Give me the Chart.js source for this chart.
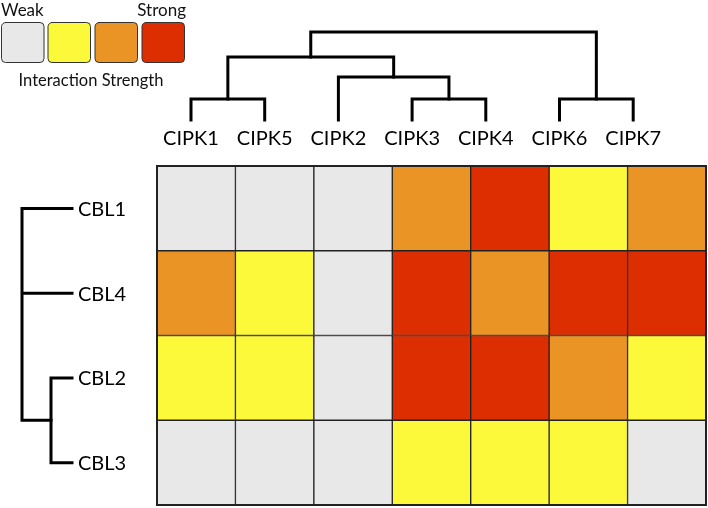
<!DOCTYPE html>
<html><head><meta charset="utf-8">
<script src="https://cdn.jsdelivr.net/npm/chart.js@4"></script>
<style>html,body{margin:0;padding:0;background:#fff}canvas{display:block}</style>
</head><body><canvas id="c" width="708" height="508"></canvas>
<script>
// ---- data ----
const columns = ['CIPK1','CIPK5','CIPK2','CIPK3','CIPK4','CIPK6','CIPK7'];
const rows = ['CBL1','CBL4','CBL2','CBL3']; // top to bottom
const strengthCBL1 = [0,0,0,2,3,1,2];
const strengthCBL4 = [2,1,0,3,2,3,3];
const strengthCBL2 = [1,1,0,3,3,2,1];
const strengthCBL3 = [0,0,0,1,1,1,0];
const strengthColors = ['#e8e8e8','#fcf93a','#e99425','#dc2e00'];
const legendLabels = ['Weak','Strong','Interaction Strength'];
// dendrograms: children refs (L = leaf index, M = merge index) + merge distance
const topMerges = [['L0','L1',21],['L3','L4',21],['L5','L6',21],['L2','M1',43],['M0','M3',63],['M4','M2',88]];
const leftMerges = [['L2','L3',21],['L0','L1','M0',50]];

// ---- layout ----
const AREA = {left:157, top:166, right:706, bottom:505};
const W = AREA.right - AREA.left, H = AREA.bottom - AREA.top;
const topLeaf0 = 191, topLeafStep = 73.7, topLeafY = 120;
const leftLeafX = 72;
const FONT = 'Lato, "Open Sans", sans-serif';

const matrix = [strengthCBL1, strengthCBL4, strengthCBL2, strengthCBL3];
const datasets = rows.map((r, i) => ({
  label: r,
  data: columns.map(() => 1),
  backgroundColor: matrix[i].map(v => strengthColors[v]),
  borderColor: '#222',
  borderWidth: 1,
  borderSkipped: false,
  barPercentage: 1,
  categoryPercentage: 1
})).reverse();

function buildTree(merges, leafPos) {
  const nodes = [];
  const get = ref => ref[0] === 'L' ? {pos: leafPos(+ref.slice(1)), h: 0} : nodes[+ref.slice(1)];
  merges.forEach(m => {
    const kids = m.slice(0, -1).map(get);
    const h = m[m.length - 1];
    const ps = kids.map(k => k.pos);
    nodes.push({kids, h, pos: (Math.min(...ps) + Math.max(...ps)) / 2, lo: Math.min(...ps), hi: Math.max(...ps)});
  });
  return nodes;
}

const dendroPlugin = {
  id: 'dendro',
  afterDraw(chart) {
    const ctx = chart.ctx;
    const ys = chart.scales.y;
    const xTop = chart.scales.xTop, yTop = chart.scales.yTop, xLeft = chart.scales.xLeft;
    ctx.save();
    // outer frame
    ctx.strokeStyle = '#222'; ctx.lineWidth = 2;
    ctx.strokeRect(chart.chartArea.left, chart.chartArea.top, chart.chartArea.right - chart.chartArea.left, chart.chartArea.bottom - chart.chartArea.top);

    ctx.strokeStyle = '#000'; ctx.lineWidth = 3; ctx.lineCap = 'square'; ctx.lineJoin = 'miter';
    // top dendrogram
    const tnodes = buildTree(topMerges, i => i);
    tnodes.forEach(n => {
      ctx.beginPath();
      n.kids.forEach(k => {
        ctx.moveTo(xTop.getPixelForValue(k.pos), yTop.getPixelForValue(k.h));
        ctx.lineTo(xTop.getPixelForValue(k.pos), yTop.getPixelForValue(n.h));
      });
      ctx.moveTo(xTop.getPixelForValue(n.lo), yTop.getPixelForValue(n.h));
      ctx.lineTo(xTop.getPixelForValue(n.hi), yTop.getPixelForValue(n.h));
      ctx.stroke();
    });
    // left dendrogram
    const rowVal = r => rows.length - 0.5 - r;
    const lnodes = buildTree(leftMerges, rowVal);
    lnodes.forEach(n => {
      ctx.beginPath();
      n.kids.forEach(k => {
        ctx.moveTo(xLeft.getPixelForValue(k.h), ys.getPixelForValue(k.pos));
        ctx.lineTo(xLeft.getPixelForValue(n.h), ys.getPixelForValue(k.pos));
      });
      ctx.moveTo(xLeft.getPixelForValue(n.h), ys.getPixelForValue(n.lo));
      ctx.lineTo(xLeft.getPixelForValue(n.h), ys.getPixelForValue(n.hi));
      ctx.stroke();
    });

    // labels
    ctx.fillStyle = '#000';
    ctx.font = '20px ' + FONT;
    ctx.textAlign = 'center'; ctx.textBaseline = 'middle';
    columns.forEach((c, i) => ctx.fillText(c, xTop.getPixelForValue(i), 139));
    ctx.textAlign = 'left';
    rows.forEach((r, i) => ctx.fillText(r, xLeft.getPixelForValue(0) + 6, ys.getPixelForValue(rowVal(i)) + 1));

    // legend
    const bx = [1, 47.5, 94.5, 141.5], bw = 43.5;
    strengthColors.forEach((col, i) => {
      ctx.beginPath();
      ctx.roundRect(bx[i] + 0.5, 22.5, bw - 1, 40, 4);
      ctx.fillStyle = col; ctx.fill();
      ctx.strokeStyle = '#333'; ctx.lineWidth = 1; ctx.stroke();
    });
    ctx.fillStyle = '#111';
    ctx.font = '17px ' + FONT;
    ctx.textBaseline = 'alphabetic';
    ctx.textAlign = 'left'; ctx.fillText(legendLabels[0], 1, 16);
    ctx.textAlign = 'right'; ctx.fillText(legendLabels[1], 186, 16);
    ctx.font = '16.5px ' + FONT;
    ctx.textAlign = 'center'; ctx.fillText(legendLabels[2], 91, 86);
    ctx.restore();
  }
};

// hidden helper scales mapping dendrogram coordinates
const xTopMin = -(topLeaf0 - AREA.left) / topLeafStep;
const xTopMax = xTopMin + W / topLeafStep;
const yTopMin = -(AREA.bottom - topLeafY); // 1 px per distance unit
const yTopMax = yTopMin + H;
const xLeftMin = -(AREA.right - leftLeafX);
const xLeftMax = xLeftMin + W;

new Chart(document.getElementById('c'), {
  type: 'bar',
  data: {labels: columns, datasets},
  plugins: [dendroPlugin],
  options: {
    responsive: false,
    animation: false,
    layout: {padding: {left: AREA.left, top: AREA.top, right: 708 - AREA.right, bottom: 508 - AREA.bottom}},
    plugins: {legend: {display: false}, tooltip: {enabled: false}},
    scales: {
      x: {stacked: true, display: false, offset: true},
      y: {stacked: true, display: false, min: 0, max: rows.length},
      xTop: {type: 'linear', axis: 'x', display: false, offset: false, min: xTopMin, max: xTopMax},
      yTop: {type: 'linear', axis: 'y', display: false, offset: false, min: yTopMin, max: yTopMax},
      xLeft: {type: 'linear', axis: 'x', display: false, offset: false, reverse: true, min: xLeftMin, max: xLeftMax}
    }
  }
});
</script>
</body></html>
